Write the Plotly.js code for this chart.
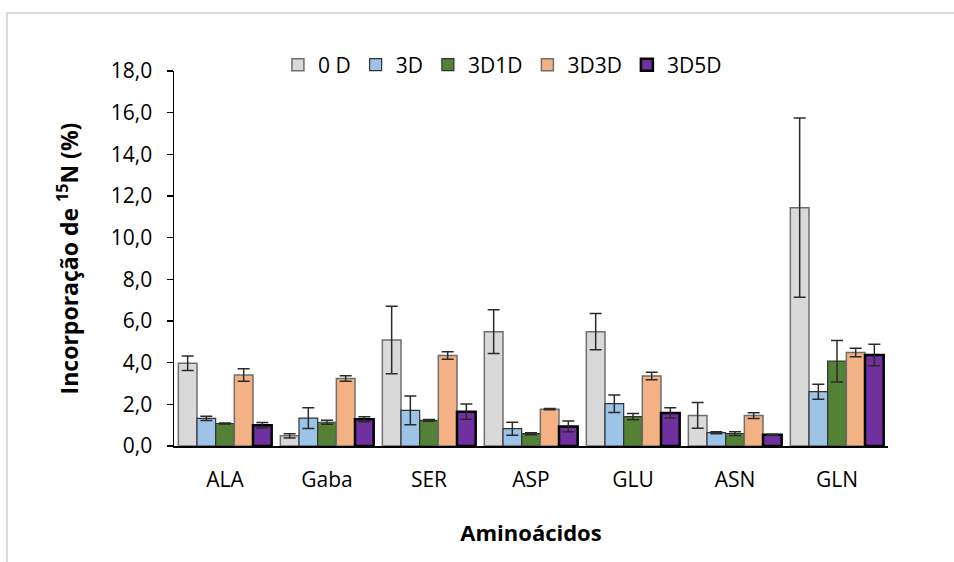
<!DOCTYPE html>
<html>
<head>
<meta charset="utf-8">
<script src="https://cdn.plot.ly/plotly-3.0.1.min.js"></script>
<style>
  html, body { margin: 0; padding: 0; background: #ffffff; }
  #chart { width: 954px; height: 562px; }
</style>
</head>
<body>
<div id="chart"></div>
<script>
// Amino acids on the x axis
const categories = ['ALA', 'Gaba', 'SER', 'ASP', 'GLU', 'ASN', 'GLN'];

// 15N incorporation (%) per treatment, with standard errors
const d0      = [3.97, 0.49, 5.09, 5.49, 5.49, 1.47, 11.44];
const d0Err   = [0.35, 0.10, 1.62, 1.05, 0.87, 0.62, 4.30];
const d3      = [1.33, 1.34, 1.71, 0.83, 2.03, 0.64, 2.61];
const d3Err   = [0.10, 0.50, 0.69, 0.31, 0.42, 0.05, 0.36];
const d3d1    = [1.08, 1.14, 1.23, 0.59, 1.41, 0.60, 4.07];
const d3d1Err = [0.02, 0.10, 0.04, 0.05, 0.15, 0.09, 1.00];
const d3d3    = [3.41, 3.24, 4.35, 1.77, 3.36, 1.46, 4.49];
const d3d3Err = [0.30, 0.13, 0.18, 0.03, 0.18, 0.14, 0.20];
const d3d5    = [1.00, 1.28, 1.65, 0.94, 1.59, 0.54, 4.37];
const d3d5Err = [0.13, 0.12, 0.37, 0.26, 0.25, 0.03, 0.52];

const seriesNames = ['0 D', '3D', '3D1D', '3D3D', '3D5D'];

const FONT = 'Open Sans, Noto Sans, sans-serif';

function barTrace(name, y, err, fill, lineColor, lineWidth) {
  return {
    type: 'bar',
    name: name,
    x: categories,
    y: y,
    marker: { color: fill, line: { color: lineColor, width: lineWidth } },
    error_y: { type: 'data', array: err, visible: true, color: '#2b2b2b', thickness: 1.5, width: 6 },
    hoverinfo: 'x+y+name'
  };
}

const data = [
  barTrace(seriesNames[0], d0,   d0Err,   '#d9d9d9', '#6f6f6f', 1.5),
  barTrace(seriesNames[1], d3,   d3Err,   '#9dc3e6', '#333333', 1.2),
  barTrace(seriesNames[2], d3d1, d3d1Err, '#538135', '#333333', 1.2),
  barTrace(seriesNames[3], d3d3, d3d3Err, '#f4b183', '#6f6f6f', 1.5),
  barTrace(seriesNames[4], d3d5, d3d5Err, '#7030a0', '#000000', 2.5)
];

const layout = {
  width: 954,
  height: 562,
  paper_bgcolor: '#ffffff',
  plot_bgcolor: '#ffffff',
  separators: ', ',
  margin: { l: 174, r: 66, t: 71, b: 116 },
  font: { family: FONT, color: '#000000', size: 20 },
  barmode: 'group',
  bargap: 0.085,
  bargroupgap: 0,
  showlegend: true,
  legend: {
    orientation: 'h',
    x: 0.46, xanchor: 'center',
    y: 1.016, yanchor: 'middle',
    font: { family: FONT, size: 21, color: '#000000' },
    itemwidth: 30,
    traceorder: 'normal',
    bgcolor: 'rgba(0,0,0,0)'
  },
  xaxis: {
    type: 'category',
    showline: true,
    linecolor: '#000000',
    linewidth: 1.5,
    ticks: '',
    showgrid: false,
    zeroline: false,
    tickfont: { family: FONT, size: 21, color: '#000000' },
    ticklabelstandoff: 14,
    title: { text: '<b>Aminoácidos</b>', font: { family: FONT, size: 22, color: '#000000' }, standoff: 34 }
  },
  yaxis: {
    range: [0, 18],
    dtick: 2,
    tick0: 0,
    tickformat: '.1f',
    showline: true,
    linecolor: '#000000',
    linewidth: 1.5,
    ticks: 'outside',
    ticklen: 6,
    tickwidth: 1.5,
    tickcolor: '#000000',
    ticklabelstandoff: 10,
    showgrid: false,
    zeroline: false,
    tickfont: { family: FONT, size: 21, color: '#000000' },
    title: { text: '<b>Incorporação de <sup>15</sup>N (%)</b>', font: { family: FONT, size: 23, color: '#000000' }, standoff: 26 }
  },
  shapes: [
    {
      type: 'rect', xref: 'paper', yref: 'paper',
      x0: -0.234, x1: 1.3, y0: -0.6, y1: 1.155,
      line: { color: '#d9d9d9', width: 2 },
      fillcolor: 'rgba(0,0,0,0)',
      layer: 'below'
    }
  ]
};

Plotly.newPlot('chart', data, layout, { displayModeBar: false, staticPlot: true });
</script>
</body>
</html>
